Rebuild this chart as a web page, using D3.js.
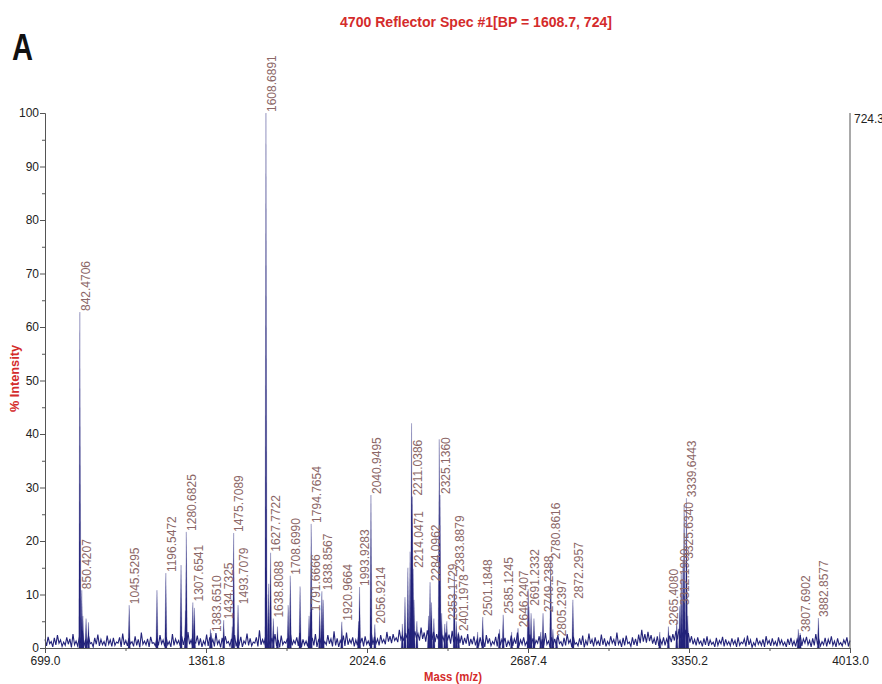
<!DOCTYPE html>
<html>
<head>
<meta charset="utf-8">
<script src="https://cdnjs.cloudflare.com/ajax/libs/d3/7.8.5/d3.min.js"></script>
<style>
body{margin:0;background:#fff;}
</style>
</head>
<body>
<script>
// labelled peaks (mass, % intensity)
var labelMass = [842.4706, 850.4207, 1045.5295, 1196.5472, 1280.6825, 1307.6541, 1383.6510, 1434.7325,
  1475.7089, 1493.7079, 1608.6891, 1627.7722, 1638.8088, 1708.6990, 1791.6666, 1794.7654, 1838.8567,
  1920.9664, 1993.9283, 2040.9495, 2056.9214, 2211.0386, 2214.0471, 2284.0962, 2325.1360, 2353.1729,
  2383.8879, 2401.1978, 2501.1848, 2585.1245, 2646.2407, 2691.2332, 2749.2388, 2780.8616, 2805.2397,
  2872.2957, 3265.4080, 3312.1900, 3325.6340, 3339.6443, 3807.6902, 3882.8577];
var labelInt = [62.8, 10.8, 8.0, 14.0, 21.7, 8.5, 2.8, 5.2,
  21.5, 8.0, 100, 17.8, 5.5, 13.5, 6.7, 23.2, 10.6,
  4.9, 11.4, 28.6, 4.4, 28.3, 14.8, 12.3, 28.6, 5.0,
  14.0, 3.0, 5.8, 6.2, 3.7, 7.7, 6.5, 16.4, 2.0,
  9.0, 4.0, 7.8, 16.5, 28.0, 2.8, 5.6];

// unlabelled spikes
var spikeMass = [855, 868, 878, 1160, 1259, 1277, 1314, 1380, 1470, 1612, 1620, 1656, 1700, 1749, 1786, 1830, 1844,
  1990, 2170, 2181, 2193, 2202, 2208, 2218, 2230, 2278, 2290, 2300, 2322, 2332, 2345, 2392, 2480, 2570,
  2620, 2688, 2700, 2712, 2740, 2790, 3230, 3300, 3318, 3330, 3345, 3800];
var spikeInt = [6.0, 5.5, 4.8, 10.8, 15.5, 7.0, 7.5, 3.5, 4.0, 10.0, 12.0, 4.0, 8.0, 11.5, 6.0, 7.5, 9.0,
  5.0, 4.5, 9.5, 15.0, 18.0, 42.0, 9.0, 5.0, 6.0, 8.5, 5.5, 39.0, 6.5, 4.5, 5.0, 3.0, 3.5,
  3.0, 11.0, 6.5, 5.5, 3.0, 3.5, 3.0, 5.0, 14.0, 26.7, 6.0, 3.5];

// baseline noise: tops and dips, evenly spaced over the mass range
var noiseInt = [
  1.6,2.1,1.2,1.9,2.4,1.5,1.1,2.0,1.7,2.6,1.3,1.8,3.2,1.4,2.2,1.0,1.9,2.5,1.6,1.2,
  2.3,1.5,1.9,1.1,2.0,2.7,1.4,1.8,1.2,2.2,1.6,2.9,1.3,1.7,2.1,1.0,1.8,2.4,1.5,2.0,
  1.2,2.6,1.7,1.4,2.2,1.9,3.0,1.5,1.1,2.3,1.8,1.3,2.5,2.0,1.6,2.8,1.4,1.9,2.2,1.2,
  1.7,2.4,1.5,2.1,1.3,2.7,1.8,1.1,2.0,3.3,1.6,2.2,1.4,1.9,2.6,1.5,2.3,1.2,1.8,2.5,
  1.4,2.0,2.8,1.6,1.3,2.2,1.9,2.6,1.5,2.1,1.2,2.4,1.7,3.1,1.8,1.4,2.3,2.9,1.6,2.0,
  1.5,2.5,1.9,2.2,1.3,2.8,2.1,1.7,2.4,1.6,3.0,2.2,2.6,1.9,3.4,2.3,2.8,3.6,2.5,3.1,
  2.7,3.8,2.9,3.3,2.4,3.0,2.6,3.5,2.2,2.9,2.5,3.2,2.1,2.7,2.3,1.9,2.6,1.7,2.2,1.5,
  2.0,1.4,2.4,1.8,1.2,2.1,2.7,1.6,1.9,1.3,2.3,1.7,2.9,1.5,2.0,1.1,2.5,1.8,1.4,2.2,
  1.6,2.8,1.3,2.0,1.7,2.4,1.2,1.9,2.6,1.5,2.1,1.0,1.8,2.3,1.4,2.7,1.6,2.0,1.3,2.5,
  1.8,1.2,2.2,1.6,2.9,1.4,1.9,2.3,1.1,2.0,1.7,2.5,3.4,2.6,3.0,2.4,1.8,2.2,1.5,2.0,
  1.7,2.3,2.6,3.2,3.6,2.9,3.4,2.8,2.2,1.6,2.0,1.3,1.8,2.2,1.5,1.1,1.9,1.4,2.1,1.6,
  1.2,1.8,1.4,2.0,1.1,1.7,2.3,1.5,1.0,1.9,1.3,1.6,2.2,1.4,1.8,1.2,2.0,1.5,1.1,1.7,
  1.9,1.3,1.6,2.4,1.7,2.1,1.4,1.8,2.6,1.5,1.2,1.9,1.6,2.2,1.3,1.8,1.0,1.5,2.0,1.4];
var noiseLow = [
  0.4,0.8,0.2,0.6,0.9,0.3,0.5,0.7,0.1,0.6,0.4,0.9,0.3,0.5,0.8,0.2,0.7,0.4,0.6,0.3,
  0.7,0.3,0.5,0.9,0.2,0.6,0.4,0.8,0.3,0.5,0.1,0.7,0.6,0.2,0.9,0.4,0.5,0.8,0.3,0.6,
  0.2,0.5,0.8,0.4,0.6,0.1,0.7,0.3,0.9,0.5,0.2,0.6,0.4,0.8,0.3,0.7,0.1,0.5,0.9,0.4,
  0.6,0.3,0.7,0.2,0.8,0.5,0.4,0.9,0.3,0.6,0.8,0.2,0.5,0.7,0.4,0.1,0.6,0.9,0.3,0.5,
  0.8,0.4,0.1,0.6,0.3,0.7,0.5,0.2,0.9,0.4,0.6,0.8,0.3,0.5,0.2,0.7,0.4,0.6,0.9,0.3,
  0.5,0.9,0.3,0.7,0.4,0.6,0.8,0.5,1.0,0.7,1.2,0.9,1.4,1.1,1.6,1.3,1.8,1.2,1.5,1.9,
  1.4,1.7,1.2,1.9,1.5,1.1,1.6,1.3,1.0,1.4,0.8,1.1,0.7,0.9,0.6,0.8,0.4,0.7,0.5,0.3,
  0.6,0.2,0.8,0.4,0.7,0.3,0.5,0.9,0.2,0.6,0.4,0.8,0.3,0.7,0.5,0.1,0.6,0.4,0.9,0.3,
  0.5,0.7,0.2,0.6,0.4,0.8,0.3,0.5,0.9,0.2,0.7,0.4,0.6,0.1,0.5,0.8,0.3,0.7,0.4,0.6,
  0.3,0.6,0.9,0.4,0.7,0.2,0.5,0.8,0.3,0.6,0.4,0.9,1.2,1.0,1.3,0.8,0.6,0.4,0.7,0.5,
  0.8,1.1,1.4,1.6,1.9,1.5,1.2,1.0,0.7,0.5,0.8,0.3,0.6,0.4,0.7,0.2,0.5,0.8,0.3,0.6,
  0.4,0.7,0.2,0.5,0.8,0.3,0.6,0.1,0.4,0.7,0.5,0.2,0.8,0.4,0.6,0.3,0.7,0.5,0.2,0.6,
  0.5,0.3,0.7,0.4,0.9,0.6,0.2,0.5,0.8,0.4,0.6,0.3,0.7,0.5,0.2,0.6,0.4,0.8,0.3];

var xTicks = [699.0, 1361.8, 2024.6, 2687.4, 3350.2, 4013.0];
var yTicks = [0, 10, 20, 30, 40, 50, 60, 70, 80, 90, 100];
var yMinor = [5, 15, 25, 35, 45, 55, 65, 75, 85, 95];
var titleText = "4700 Reflector Spec #1[BP = 1608.7, 724]";
var maxCounts = "724.3";

var W = 882, H = 684;
var navy = "#23237a";
var red = "#d42b2b";
var labelCol = "#8c6767";
var narrow = "'Liberation Sans Narrow','Arial Narrow','Liberation Sans',Arial,sans-serif";
var sans = "'Liberation Sans',Arial,sans-serif";

var svg = d3.select("body").append("svg")
    .attr("width", W)
    .attr("height", H);

var x = d3.scaleLinear().domain([699, 4013]).range([45, 850]);
var y = d3.scaleLinear().domain([0, 100]).range([648, 113]);

//noise trace: each top followed by a dip half a step later
var noiseX = d3.scaleLinear().domain([0, noiseInt.length - 1]).range([699, 4013]);
var noisePts = [];
noiseInt.forEach(function(v, i){
  noisePts.push([noiseX(i), v]);
  if (i < noiseLow.length && i < noiseInt.length - 1)
    noisePts.push([noiseX(i + 0.5), noiseLow[i]]);
});

var noiseLine = d3.line()
    .x(function(d){ return x(d[0]); })
    .y(function(d){ return y(d[1]); });

svg.append("path")
    .attr("d", noiseLine(noisePts))
    .attr("fill", "none")
    .attr("stroke", navy)
    .attr("stroke-width", 1.1);

//a narrow triangle, so tall thin tops fade out like the trace
var peakPath = function(m, v){
  var px = x(m);
  return "M" + (px - 1.1) + "," + y(0) + "L" + px + "," + y(v) + "L" + (px + 1.1) + "," + y(0) + "Z";
};

svg.append("g").selectAll("path")
    .data(d3.zip(spikeMass, spikeInt))
    .enter()
    .append("path")
    .attr("d", function(d){ return peakPath(d[0], d[1]); })
    .attr("fill", navy)
    .attr("stroke", navy)
    .attr("stroke-width", 0.4)
    .attr("stroke-opacity", 0.6);

var peaks = d3.zip(labelMass, labelInt);
svg.append("g").selectAll("path")
    .data(peaks)
    .enter()
    .append("path")
    .attr("d", function(d){ return peakPath(d[0], d[1]); })
    .attr("fill", navy)
    .attr("stroke", navy)
    .attr("stroke-width", 0.4)
    .attr("stroke-opacity", 0.6);

svg.append("g").selectAll("text")
    .data(peaks)
    .enter()
    .append("text")
    .attr("transform", function(d){
      return "translate(" + (x(d[0]) + 5.5) + "," + (y(d[1]) - 1) + ") rotate(-90)";
    })
    .attr("dy", "0.35em")
    .attr("font-family", sans)
    .attr("font-size", 12)
    .attr("fill", labelCol)
    .text(function(d){ return d[0].toFixed(4); });

//axes
var yAxis = svg.append("g")
    .attr("transform", "translate(45,0)")
    .call(d3.axisLeft(y).tickValues(yTicks).tickSize(5).tickSizeOuter(0).tickFormat(d3.format("d")));
svg.append("g")
    .attr("transform", "translate(45,0)")
    .call(d3.axisLeft(y).tickValues(yMinor).tickSize(3).tickSizeOuter(0).tickFormat(""));

var xAxis = svg.append("g")
    .attr("transform", "translate(0,648)")
    .call(d3.axisBottom(x).tickValues(xTicks).tickSize(5).tickSizeOuter(0).tickFormat(d3.format(".1f")));
svg.append("g")
    .attr("transform", "translate(0,648)")
    .call(d3.axisBottom(x).tickValues(d3.pairs(xTicks).map(function(p){ return (p[0] + p[1]) / 2; }))
      .tickSize(3).tickSizeOuter(0).tickFormat(""));

svg.selectAll(".domain, .tick line").attr("stroke", "#555");
svg.selectAll(".tick text")
    .attr("font-family", sans)
    .attr("font-size", 12)
    .attr("fill", "#222");
yAxis.selectAll(".tick text").attr("x", -6);

//right hand counts axis
svg.append("line")
    .attr("x1", x(4013)).attr("x2", x(4013))
    .attr("y1", y(0)).attr("y2", y(100))
    .attr("stroke", "#555");
svg.append("text")
    .attr("x", x(4013) + 4)
    .attr("y", y(100) + 10)
    .attr("font-family", sans)
    .attr("font-size", 12)
    .attr("fill", "#222")
    .text(maxCounts);

//titles
svg.append("text")
    .attr("x", 340).attr("y", 27)
    .attr("textLength", 272).attr("lengthAdjust", "spacingAndGlyphs")
    .attr("font-family", narrow).attr("font-weight", "bold").attr("font-size", 14)
    .attr("fill", red)
    .text(titleText);

svg.append("text")
    .attr("x", 12).attr("y", 60)
    .attr("textLength", 21).attr("lengthAdjust", "spacingAndGlyphs")
    .attr("font-family", sans).attr("font-weight", "bold").attr("font-size", 37)
    .attr("fill", "#111")
    .text("A");

svg.append("text")
    .attr("transform", "translate(19,412) rotate(-90)")
    .attr("textLength", 67).attr("lengthAdjust", "spacingAndGlyphs")
    .attr("font-family", narrow).attr("font-weight", "bold").attr("font-size", 12)
    .attr("fill", red)
    .text("% Intensity");

svg.append("text")
    .attr("x", 424).attr("y", 681)
    .attr("textLength", 58).attr("lengthAdjust", "spacingAndGlyphs")
    .attr("font-family", narrow).attr("font-weight", "bold").attr("font-size", 12)
    .attr("fill", red)
    .text("Mass (m/z)");
</script>
</body>
</html>
